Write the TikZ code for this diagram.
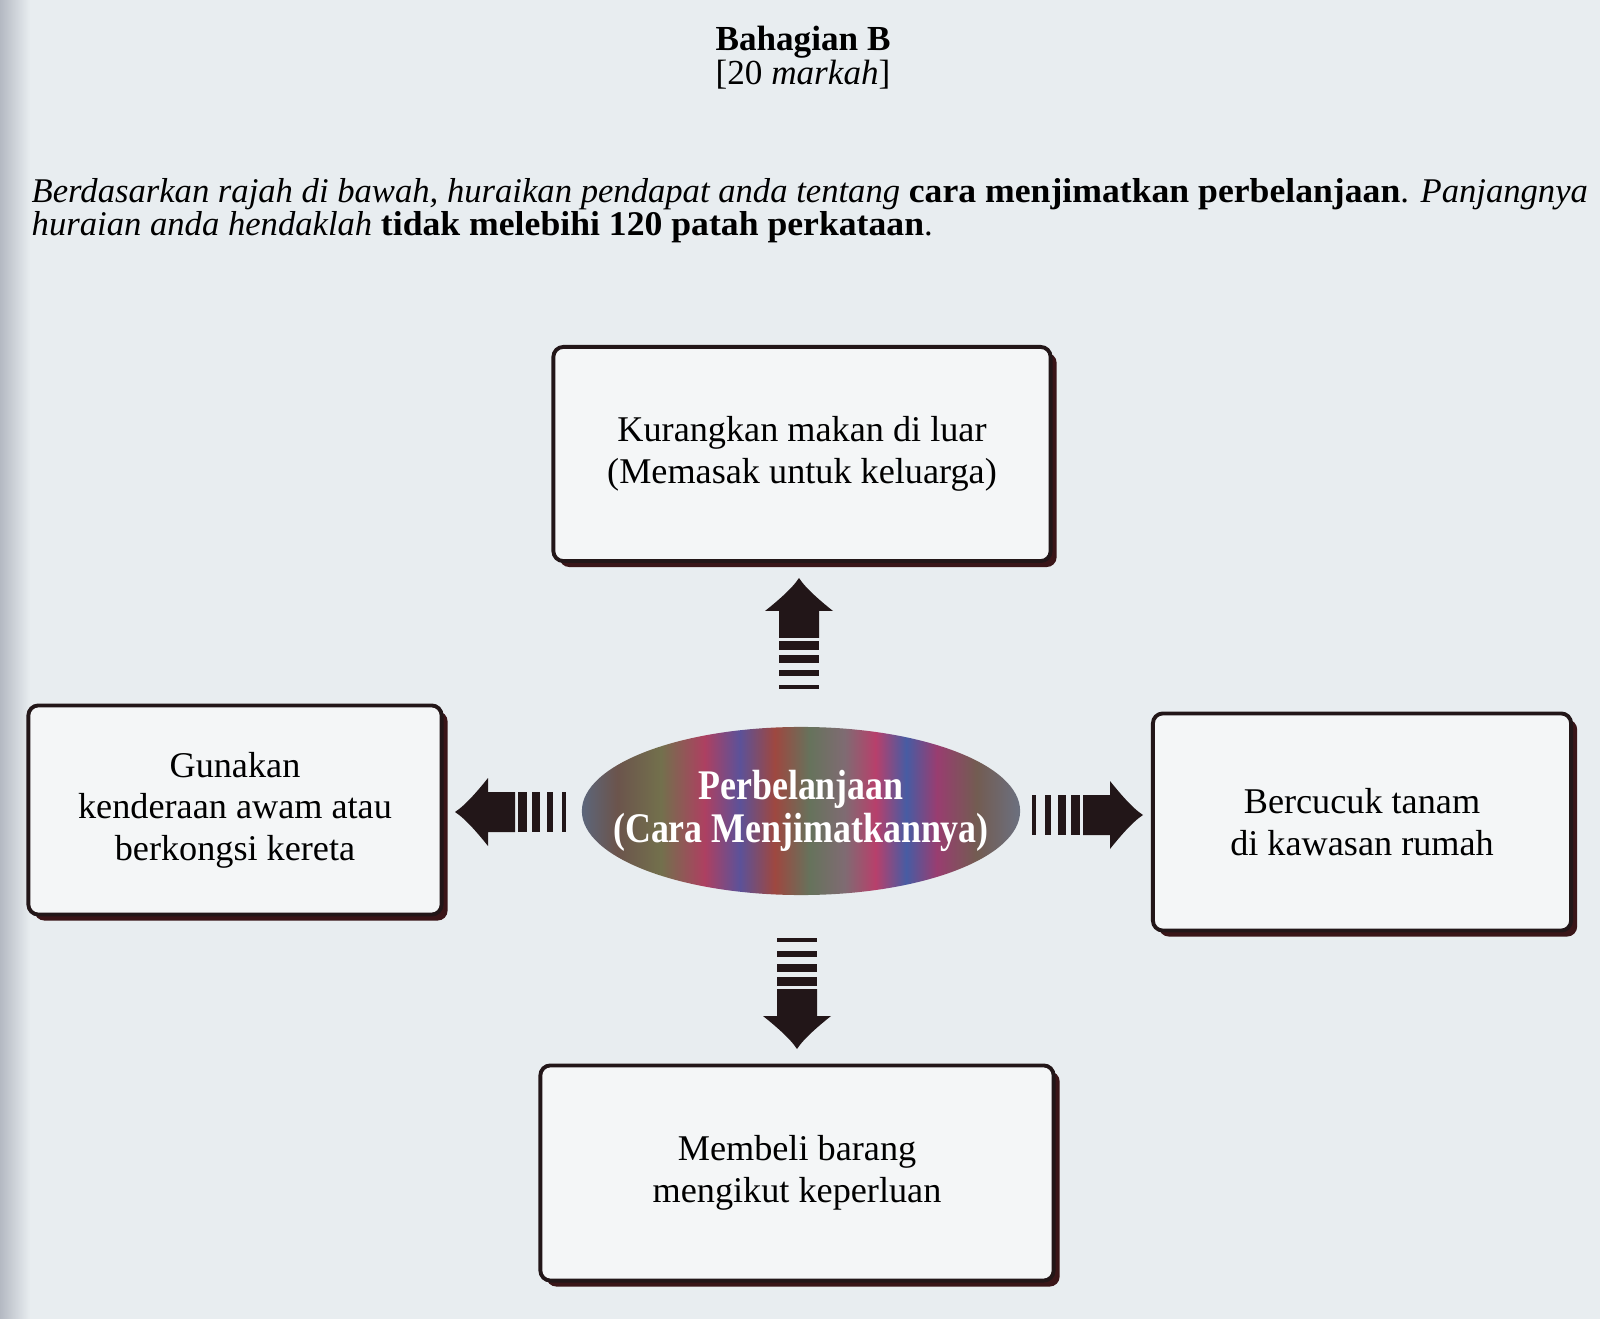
\documentclass[tikz,border=0pt]{standalone}
\usepackage{fontspec}
\setmainfont{Liberation Serif}
\newfontfamily\ellfont{Liberation Serif}[FakeStretch=0.85]
\newfontfamily\soalanfont{Liberation Serif}[BoldFeatures={FakeStretch=1.03}]
\usetikzlibrary{shapes.geometric,shadows}
\definecolor{PaperGrey}{HTML}{E8EDF0}
\definecolor{EdgeGrey}{HTML}{B4B9C2}
\definecolor{BoxWhite}{HTML}{F4F6F7}
\definecolor{InkBlack}{HTML}{221618}
\definecolor{ShadowRed}{HTML}{3A1518}
\pgfdeclarehorizontalshading{irid}{100bp}{%
  rgb(0bp)=(0.36,0.40,0.48);
  rgb(25bp)=(0.36,0.40,0.48);
  rgb(29bp)=(0.42,0.33,0.30);
  rgb(34bp)=(0.45,0.44,0.30);
  rgb(39bp)=(0.68,0.25,0.38);
  rgb(43bp)=(0.36,0.32,0.60);
  rgb(47bp)=(0.62,0.28,0.25);
  rgb(51bp)=(0.40,0.45,0.36);
  rgb(55bp)=(0.50,0.42,0.45);
  rgb(58.5bp)=(0.72,0.25,0.42);
  rgb(62bp)=(0.28,0.36,0.64);
  rgb(65.5bp)=(0.60,0.24,0.44);
  rgb(70bp)=(0.45,0.36,0.32);
  rgb(75bp)=(0.42,0.44,0.50);
  rgb(100bp)=(0.42,0.44,0.50)}
\tikzset{
    % Heading text
    headtext/.style={
        anchor=base,
        inner sep=0pt,
        text=black,
        font=\fontsize{10}{12}\selectfont
    },
    % Question text
    soalantext/.style={
        headtext,
        anchor=base west,
        font=\soalanfont\fontsize{9.85}{12}\selectfont
    },
    % Idea box style
    ideabox/.style={
        draw=InkBlack,
        fill=BoxWhite,
        line width=1.1pt,
        rounded corners=0.1cm,
        drop shadow={shadow xshift=0.06cm,shadow yshift=-0.06cm,fill=ShadowRed,opacity=1},
        align=center,
        font=\fontsize{10.3}{11.8}\selectfont
    },
    % Centre ellipse
    centrenode/.style={
        ellipse,
        shading=irid,
        inner sep=0pt,
        minimum width=4.38cm,
        minimum height=1.68cm
    },
    centretext/.style={
        align=center,
        inner sep=0pt,
        text=white,
        font=\ellfont\bfseries\fontsize{12}{12.3}\selectfont
    },
    arrowfill/.style={fill=InkBlack},
    % Striped block arrow, pointing along +x
    stripearrow/.pic={
        \fill[arrowfill] (0,-20) rectangle (4,20);
        \fill[arrowfill] (13,-20) rectangle (19,20);
        \fill[arrowfill] (26,-20) rectangle (34,20);
        \fill[arrowfill] (39,-20) rectangle (48,20);
        \fill[arrowfill] (51,-20) -- (78,-20) -- (78,-34)
            .. controls (86,-24) and (100,-7) .. (111,0)
            .. controls (100,7) and (86,24) .. (78,34)
            -- (78,20) -- (51,20) -- cycle;
    }
}
\begin{document}
\begin{tikzpicture}[x=0.01cm,y=-0.01cm]
    % paper
    \fill[PaperGrey] (0,0) rectangle (1600,1319);
    \shade[left color=EdgeGrey,right color=PaperGrey] (0,0) rectangle (30,1319);
    \useasboundingbox (0,0) rectangle (1600,1319);

    % Heading
    \node[headtext] (bahagian) at (803,51) {\bfseries Bahagian B};
    \node[headtext] (markah) at (803,85) {[20 \textit{markah}]};
    \node[soalantext] (soalan1) at (31,203)
        {\textit{Berdasarkan rajah di bawah, huraikan pendapat anda tentang} \textbf{cara menjimatkan perbelanjaan}. \textit{Panjangnya}};
    \node[soalantext] (soalan2) at (31,236)
        {\textit{huraian anda hendaklah} \textbf{tidak melebihi 120 patah perkataan}.};

    % Centre
    \node[centrenode] (belanja) at (801,811) {};
    \node[centretext] (belanjateks) at (belanja.center) {Perbelanjaan\\(Cara Menjimatkannya)};

    % Boxes
    \node[ideabox,minimum width=4.97cm,minimum height=2.14cm] (kurang) at (802,454)
        {Kurangkan makan di luar\\(Memasak untuk keluarga)};
    \node[ideabox,minimum width=4.13cm,minimum height=2.09cm] (gunakan) at (235,810)
        {Gunakan\\kenderaan awam atau\\berkongsi kereta};
    \node[ideabox,minimum width=4.18cm,minimum height=2.17cm] (bercucuk) at (1362,822)
        {Bercucuk tanam\\di kawasan rumah};
    \node[ideabox,minimum width=5.13cm,minimum height=2.15cm] (membeli) at (797,1173)
        {Membeli barang\\mengikut keperluan};

    % Arrows
    \pic[rotate=90] at (799,689) {stripearrow};
    \pic[rotate=180] at (566,812) {stripearrow};
    \pic at (1032,815) {stripearrow};
    \pic[rotate=-90] at (797,938) {stripearrow};
\end{tikzpicture}
\end{document}
